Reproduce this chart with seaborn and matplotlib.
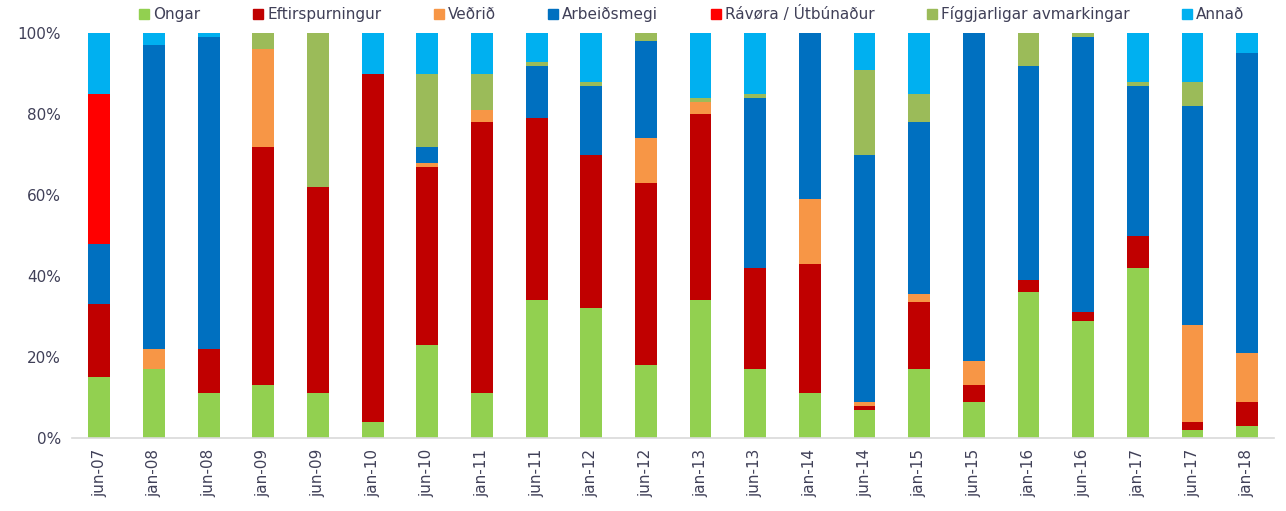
import matplotlib
matplotlib.use("Agg")
import matplotlib.pyplot as plt
import numpy as np
import pandas as pd
import seaborn as sns
from matplotlib.lines import Line2D
from matplotlib.ticker import PercentFormatter

periods = ["jun-07", "jan-08", "jun-08", "jan-09", "jun-09", "jan-10", "jun-10", "jan-11",
           "jun-11", "jan-12", "jun-12", "jan-13", "jun-13", "jan-14", "jun-14", "jan-15",
           "jun-15", "jan-16", "jun-16", "jan-17", "jun-17", "jan-18"]

ongar = [15, 17, 11, 13, 11, 4, 23, 11, 34, 32, 18, 34, 17, 11, 7, 17, 9, 36, 29, 42, 2, 3]
eftirspurningur = [18, 0, 11, 59, 51, 86, 44, 67, 45, 38, 45, 46, 25, 32, 1, 16.5, 4, 3, 2, 8, 2, 6]
vedrid = [0, 5, 0, 24, 0, 0, 1, 3, 0, 0, 11, 3, 0, 16, 1, 2, 6, 0, 0, 0, 24, 12]
arbeidsmegi = [15, 75, 77, 0, 0, 0, 4, 0, 13, 17, 24, 0, 42, 41, 61, 42.5, 81, 53, 68, 37, 54, 74]
ravora = [37, 0, 0, 0, 0, 0, 0, 0, 0, 0, 0, 0, 0, 0, 0, 0, 0, 0, 0, 0, 0, 0]
figgjarligar = [0, 0, 0, 4, 38, 0, 18, 9, 1, 1, 2, 1, 1, 0, 21, 7, 0, 8, 1, 1, 6, 0]
annad = [15, 3, 1, 0, 0, 10, 10, 10, 7, 12, 0, 16, 15, 0, 9, 15, 0, 0, 0, 12, 12, 5]

series = ["Ongar", "Eftirspurningur", "Veðrið", "Arbeiðsmegi",
          "Rávøra / Útbúnaður", "Fíggjarligar avmarkingar", "Annað"]
colors = ["#92D050", "#C00000", "#F79646", "#0070C0", "#FF0000", "#9BBB59", "#00B0F0"]

df = pd.DataFrame({"period": periods, "Ongar": ongar, "Eftirspurningur": eftirspurningur,
                   "Veðrið": vedrid, "Arbeiðsmegi": arbeidsmegi,
                   "Rávøra / Útbúnaður": ravora, "Fíggjarligar avmarkingar": figgjarligar,
                   "Annað": annad})

# normalise each column to 100%
vals = df[series].to_numpy(dtype=float)
vals = vals / vals.sum(axis=1, keepdims=True) * 100
cum = np.cumsum(vals, axis=1)

sns.set_style("white")
plt.rcParams["font.family"] = ["DejaVu Sans"]
text_col = "#404058"

fig = plt.figure(figsize=(12.86, 5.11), dpi=100)
ax = fig.add_axes([0.056, 0.143, 0.935, 0.792])

# draw cumulative tops from the last series down so each layer shows its own slice
for i in range(len(series) - 1, -1, -1):
    sns.barplot(x=df["period"], y=cum[:, i], color=colors[i], width=0.4,
                saturation=1, linewidth=0, ax=ax)

ax.set_ylim(0, 100)
ax.set_xlim(-0.5, len(periods) - 0.5)
ax.yaxis.set_major_formatter(PercentFormatter(decimals=0))
ax.set_yticks([0, 20, 40, 60, 80, 100])
ax.set_xlabel("")
ax.set_ylabel("")

for s in ["top", "right", "left"]:
    ax.spines[s].set_visible(False)
ax.spines["bottom"].set_color("#D9D9D9")
ax.spines["bottom"].set_linewidth(1.2)

ax.tick_params(axis="y", length=0, labelsize=11, labelcolor=text_col, pad=8)
ax.tick_params(axis="x", which="major", length=0, labelsize=11, labelcolor=text_col,
               rotation=90, pad=8)
ax.set_xticks(np.arange(-0.5, len(periods), 1), minor=True)
ax.tick_params(axis="x", which="minor", length=5, color="#D9D9D9", width=1)

handles = [Line2D([0], [0], marker="s", linestyle="", markersize=7,
                  markerfacecolor=c, markeredgecolor=c) for c in colors]
fig.legend(handles, series, loc="center", bbox_to_anchor=(0.537, 0.972), ncol=7,
           frameon=False, fontsize=11, labelcolor=text_col, handletextpad=0.1,
           handlelength=1.0, columnspacing=3.25)

fig.savefig("out.png", dpi=100)
